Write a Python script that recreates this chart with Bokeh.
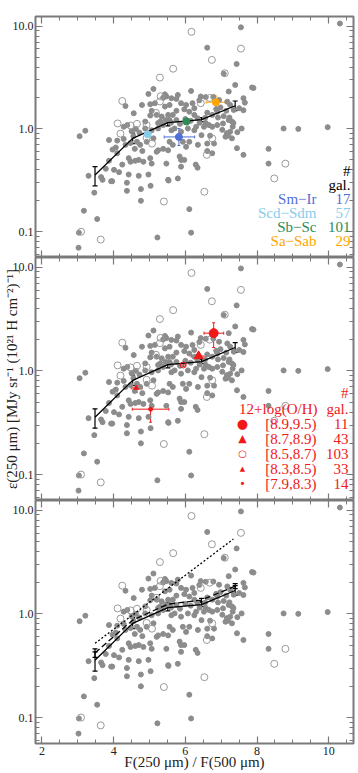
import math
from bokeh.plotting import figure
from bokeh.layouts import column
from bokeh.models import (Range1d, FixedTicker, LinearAxis, LogAxis, PrintfTickFormatter,
                          Whisker, TeeHead, ColumnDataSource, Label, CustomLabelingPolicy)
from bokeh.embed import file_html
from bokeh.resources import INLINE

# ---------------- data ----------------
# galaxies with filled symbols: F250/F500 colour and emissivity
filled_ratio = [3.05, 3.21, 3.02, 3.03, 3.17, 3.30, 3.46, 3.54, 3.69, 3.93, 3.96, 4.37, 4.37, 4.76, 4.76,
                5.03, 5.53, 6.11, 6.16, 5.22, 8.32, 8.32, 8.74, 9.15, 9.97, 10.31, 7.86, 7.90, 7.55, 6.61,
                7.43, 7.07,
                7.39, 5.11, 4.97, 5.43, 5.47, 5.38, 5.61, 6.16, 5.79, 6.43, 6.57, 6.39, 7.21, 7.62, 7.66,
                7.25, 5.75, 5.88, 6.02, 6.20, 6.25, 4.33, 4.79, 5.02, 5.15, 5.43, 5.56, 4.56, 5.06, 5.20,
                5.02, 5.34, 5.52, 5.65, 5.75, 5.97, 6.11, 6.25, 6.34, 6.61, 6.75, 6.89, 7.07, 7.21, 7.30,
                7.34, 7.62, 6.57, 6.66, 6.52, 6.75, 6.89, 4.88, 5.24, 5.38, 5.56, 4.28, 4.38, 4.88, 5.06,
                5.24, 5.61, 5.70, 5.88, 6.07, 6.25, 7.16, 7.25, 7.57, 3.87, 4.10, 4.28, 4.33, 4.47, 4.65,
                4.74, 4.59, 4.92, 5.11, 5.56, 5.65, 5.52, 5.24, 5.38, 5.93, 6.11, 6.02, 6.61, 6.80, 6.75,
                7.12, 7.30, 7.44, 6.61, 4.06, 3.97, 3.78, 4.01, 4.42, 4.47, 4.60, 4.70, 4.83, 5.02, 5.20,
                5.84, 5.88, 5.97, 5.47, 5.06, 6.29, 6.34, 7.62, 4.15, 4.42, 4.70, 4.97, 5.52, 5.79, 3.65,
                5.88, 7.45, 7.50, 7.32, 7.23, 7.35, 7.14, 7.17, 7.03, 7.05, 6.94, 6.98, 6.86, 6.91, 6.78,
                5.60, 5.75, 6.00, 6.15, 6.40, 5.85, 6.55, 5.45, 5.30, 6.30, 4.50, 4.62, 4.72, 4.55, 7.19,
                6.69, 6.45, 6.35, 4.80, 4.24, 4.10, 3.87]
filled_emis = [0.85, 0.96, 0.070, 0.098, 0.16, 0.35, 0.24, 0.133, 0.32, 0.31, 0.31, 0.30, 0.25, 0.26, 0.20,
               0.28, 0.315, 0.166, 0.098, 0.088, 0.64, 0.46, 1.01, 1.00, 1.04, 10.6, 2.53, 2.50, 9.73, 6.17,
               4.28, 3.45,
               2.68, 2.45, 2.19, 2.17, 2.07, 2.01, 1.99, 2.34, 2.14, 2.07, 2.04, 1.90, 2.31, 1.99, 1.80,
               1.71, 1.96, 1.78, 1.71, 1.78, 1.59, 1.67, 1.71, 1.74, 1.78, 1.65, 1.71, 1.42, 1.50, 1.37,
               1.35, 1.32, 1.37, 1.37, 1.50, 1.55, 1.47, 1.37, 1.27, 1.44, 1.37, 1.47, 1.33, 1.22, 1.18,
               1.14, 1.52, 1.14, 1.09, 1.05, 1.05, 1.09, 1.18, 1.14, 1.09, 1.22, 1.05, 1.09, 1.01, 0.97,
               1.01, 0.97, 1.01, 0.94, 1.01, 0.97, 0.91, 0.94, 1.01, 0.78, 0.77, 0.80, 0.70, 0.73, 0.75,
               0.70, 0.64, 0.75, 0.81, 0.75, 0.70, 0.62, 0.62, 0.64, 0.75, 0.75, 0.67, 0.72, 0.72, 0.58,
               0.84, 0.81, 0.65, 0.61, 0.66, 0.63, 0.41, 0.40, 0.52, 0.48, 0.49, 0.50, 0.48, 0.52, 0.60,
               0.54, 0.50, 0.50, 0.46, 0.46, 0.45, 0.42, 0.56, 0.38, 0.36, 0.35, 0.36, 0.32, 0.33, 0.34,
               0.43, 0.93, 1.59, 1.05, 1.29, 1.53, 1.50, 1.84, 0.98, 1.13, 1.91, 1.62, 1.56, 1.29, 2.05,
               1.15, 1.22, 1.25, 1.20, 1.15, 1.12, 1.28, 1.22, 1.18, 1.05, 0.95, 1.00, 0.92, 0.85, 0.86,
               0.86, 0.87, 0.70, 0.61, 0.45, 0.58, 0.49]
# galaxies with open symbols
open_ratio = [3.09, 3.64, 4.11, 4.19, 4.24, 4.47, 4.65, 4.92, 4.92, 5.07, 5.18, 5.29, 5.31, 5.29, 5.40,
              5.66, 6.17, 6.43, 6.68, 6.53, 6.60, 6.74, 6.75, 7.10, 7.55, 8.48, 8.79]
open_emis = [0.10, 0.084, 1.13, 0.90, 1.87, 1.08, 1.12, 1.09, 0.82, 0.72, 1.43, 3.16, 2.08, 1.85, 0.197,
             3.85, 8.8, 1.78, 2.0, 0.245, 0.56, 4.69, 0.81, 3.48, 6.04, 0.33, 0.46]

# binned mean relation
bin_ratio = [3.48, 4.53, 5.51, 6.45, 7.39]
bin_emis = [0.357, 0.81, 1.15, 1.23, 1.68]
bin_lo = [0.28, 0.72, 1.07, 1.18, 1.51]
bin_hi = [0.43, 0.91, 1.21, 1.29, 1.87]
# alternative relations (bottom panel)
alt_emis = [0.42, 0.87, 1.24, 1.36, 1.85]
alt_lo = [0.38, 0.82, 1.19, 1.31, 1.75]
alt_hi = [0.46, 0.92, 1.29, 1.41, 1.96]
model_ratio = [3.48, 7.34]
model_emis = [0.52, 5.27]

# morphological types (top panel)
morph_names = ["Sm\u2212Ir", "Scd\u2212Sdm", "Sb\u2212Sc", "Sa\u2212Sab"]
morph_counts = ["17", "57", "101", "29"]
morph_colors = ["#4f6fd8", "#87cdea", "#2e8b57", "#ffa500"]
morph_ratio = [5.82, 4.95, 6.03, 6.85]
morph_emis = [0.836, 0.887, 1.18, 1.82]
morph_xlo = [5.41, 4.88, 5.97, 6.58]
morph_xhi = [6.26, 5.02, 6.10, 7.11]
morph_ylo = [0.69, 0.84, 1.14, 1.55]
morph_yhi = [1.01, 0.94, 1.23, 2.09]

# metallicity bins (middle panel)
oh_names = ["[8.9,9.5)", "[8.7,8.9)", "[8.5,8.7)", "[8.3,8.5)", "[7.9,8.3)"]
oh_counts = ["11", "43", "103", "33", "14"]
oh_ratio = [6.79, 6.37, 5.94, 4.63, 5.03]
oh_emis = [2.31, 1.39, 1.14, 0.685, 0.427]
oh_xlo = [6.52, 6.16, 5.88, 4.49, 4.52]
oh_xhi = [7.07, 6.58, 6.00, 4.79, 5.54]
oh_ylo = [1.68, 1.32, 1.10, 0.62, 0.32]
oh_yhi = [2.91, 1.47, 1.18, 0.75, 0.53]
oh_markers = ["circle", "triangle", "circle", "triangle", "circle"]
oh_sizes = [9, 9, 6, 5, 4]
oh_fill = [1, 1, 0, 1, 1]
oh_symbols = ["\u25cf", "\u25b2", "\u25cb", "\u25b2", "\u2022"]
oh_symsize = ["13px", "11px", "10px", "7px", "11px"]

x_ticks = [2, 4, 6, 8, 10]
y_ticks = [0.1, 1.0, 10.0]
y_title = "\u03b5(250 \u03bcm) [MJy sr\u207b\u00b9 (10\u00b2\u00b9 H cm\u207b\u00b2)\u207b\u00b9]"
x_title = "F(250 \u03bcm) / F(500 \u03bcm)"

# ---------------- style ----------------
SERIF = "Liberation Serif"
AXC = "#7a7a7a"
GRAY = "#8c8c8c"
OPEN = "#9a9a9a"
RED = "#f01818"
X_MIN, X_MAX = 1.82, 10.69
Y_MIN, Y_MAX = 0.0562, 12.4
X_MINOR = [1.5 + 0.5 * i for i in range(20)]
Y_MINOR = [m * 10.0 ** e for e in (-2, -1, 0, 1) for m in range(2, 10)]


def make_panel(h, bt, bb, xlabels):
    p = figure(width=358, height=h, x_range=Range1d(X_MIN, X_MAX), y_range=Range1d(Y_MIN, Y_MAX),
               y_axis_type="log", output_backend="svg", toolbar_location=None,
               min_border_left=30, min_border_right=5, min_border_top=bt, min_border_bottom=bb,
               background_fill_color="white", border_fill_color="white",
               outline_line_color=AXC, outline_line_width=2)
    p.grid.visible = False
    p.add_layout(LogAxis(), "right")
    p.add_layout(LinearAxis(), "above")
    xt = FixedTicker(ticks=x_ticks, minor_ticks=X_MINOR)
    yt = FixedTicker(ticks=y_ticks, minor_ticks=Y_MINOR)
    for ax in list(p.xaxis) + list(p.yaxis):
        ax.axis_line_color = None
        ax.major_tick_line_color = AXC
        ax.minor_tick_line_color = AXC
        ax.major_tick_line_width = 1.2
        ax.minor_tick_line_width = 1
        ax.major_tick_in = 7
        ax.major_tick_out = 0
        ax.minor_tick_in = 4
        ax.minor_tick_out = 0
        ax.major_label_text_font = SERIF
        ax.major_label_text_font_size = "12px"
        ax.major_label_text_color = "#222222"
        ax.axis_label_text_font = SERIF
        ax.axis_label_text_font_style = "normal"
        ax.axis_label_text_font_size = "15px"
        ax.axis_label_text_color = "#222222"
    for ax in p.xaxis:
        ax.ticker = xt
    for ax in p.yaxis:
        ax.ticker = yt
        ax.formatter = PrintfTickFormatter(format="%.1f")
    hidden = [p.right[0], p.above[0]]
    if not xlabels:
        hidden.append(p.below[0])
    for ax in hidden:
        ax.major_label_text_font_size = "0px"
        ax.major_label_standoff = 0
        ax.major_label_policy = CustomLabelingPolicy(code="return []")
    p.left[0].major_label_standoff = 2
    p.below[0].major_label_standoff = 3

    p.scatter(filled_ratio, filled_emis, size=5, color=GRAY, line_color=GRAY)
    p.scatter(open_ratio, open_emis, size=7, fill_color=None, line_color=OPEN, line_width=1)
    return p


def mean_line(p, ys, lo, hi, dash="solid"):
    src = ColumnDataSource(dict(x=bin_ratio, y=ys, lo=lo, hi=hi))
    p.line("x", "y", source=src, line_color="black", line_width=1.3, line_dash=dash)
    p.add_layout(Whisker(base="x", lower="lo", upper="hi", source=src, dimension="height",
                         line_color="black", line_width=1.2,
                         upper_head=TeeHead(size=5, line_color="black", line_width=1.2),
                         lower_head=TeeHead(size=5, line_color="black", line_width=1.2)))


def err_points(p, xs, ys, xlo, xhi, ylo, yhi, colors):
    src = ColumnDataSource(dict(x=xs, y=ys, xlo=xlo, xhi=xhi, ylo=ylo, yhi=yhi, c=colors))
    p.add_layout(Whisker(base="y", lower="xlo", upper="xhi", source=src, dimension="width",
                         line_color={"field": "c"}, line_width=1,
                         upper_head=TeeHead(size=3, line_color={"field": "c"}),
                         lower_head=TeeHead(size=3, line_color={"field": "c"})))
    p.add_layout(Whisker(base="x", lower="ylo", upper="yhi", source=src, dimension="height",
                         line_color={"field": "c"}, line_width=1,
                         upper_head=TeeHead(size=3, line_color={"field": "c"}),
                         lower_head=TeeHead(size=3, line_color={"field": "c"})))
    return src


def txt(p, x, y, s, color="black", align="right", size="15px", font=SERIF):
    p.add_layout(Label(x=x, y=y, x_units="screen", y_units="screen", text=s, text_color=color,
                       text_align=align, text_baseline="middle", text_font=font, text_font_size=size))


# ---------------- panel 1 ----------------
p1 = make_panel(257, 16, 0, False)
mean_line(p1, bin_emis, bin_lo, bin_hi)
s1 = err_points(p1, morph_ratio, morph_emis, morph_xlo, morph_xhi, morph_ylo, morph_yhi, morph_colors)
p1.scatter("x", "y", source=s1, size=7, fill_color="c", line_color="c")
txt(p1, 315, 87, "#")
txt(p1, 315, 73, "gal.")
for i, (nm, ct, col) in enumerate(zip(morph_names, morph_counts, morph_colors)):
    yy = 59 - 14 * i
    txt(p1, 281, yy, nm, col)
    txt(p1, 315, yy, ct, col)

# ---------------- panel 2 ----------------
p2 = make_panel(243, 0, 0, False)
mean_line(p2, bin_emis, bin_lo, bin_hi)
s2 = err_points(p2, oh_ratio, oh_emis, oh_xlo, oh_xhi, oh_ylo, oh_yhi, [RED] * 5)
s2.data["m"] = oh_markers
s2.data["sz"] = oh_sizes
s2.data["fa"] = oh_fill
p2.scatter("x", "y", source=s2, marker="m", size="sz", fill_color=RED, fill_alpha="fa",
           line_color=RED, line_width=1)
txt(p2, 313, 108, "#", RED)
txt(p2, 282, 92, "12+log(O/H)", RED)
txt(p2, 313, 92, "gal.", RED)
for i, (nm, ct, sym, ss) in enumerate(zip(oh_names, oh_counts, oh_symbols, oh_symsize)):
    yy = 77 - 15 * i
    txt(p2, 207, yy, sym, RED, align="center", size=ss, font="DejaVu Sans")
    txt(p2, 281, yy, nm, RED)
    txt(p2, 313, yy, ct, RED)
p2.left[0].axis_label = y_title
p2.left[0].axis_label_standoff = -10

# ---------------- panel 3 ----------------
p3 = make_panel(273, 0, 30, True)
mean_line(p3, alt_emis, alt_lo, alt_hi, dash="6 3")
mean_line(p3, bin_emis, bin_lo, bin_hi)
p3.line(model_ratio, model_emis, line_color="black", line_width=1.3, line_dash="2 2")
p3.below[0].axis_label = x_title
p3.below[0].axis_label_standoff = -4

layout = column(p1, p2, p3, spacing=0)
open("out.html", "w").write(file_html(layout, INLINE))
